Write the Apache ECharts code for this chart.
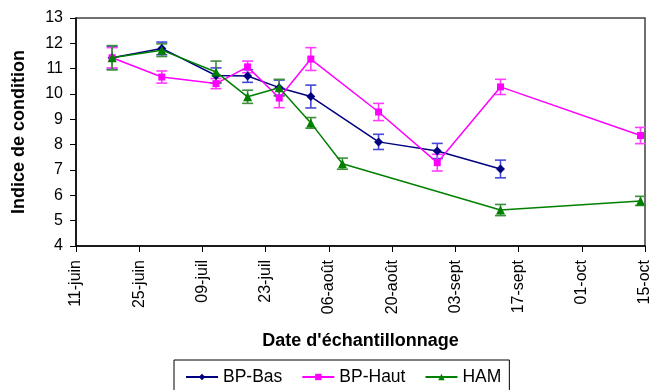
<!DOCTYPE html>
<html>
<head>
<meta charset="utf-8">
<script src="https://cdn.jsdelivr.net/npm/echarts@6/dist/echarts.min.js"></script>
<style>
html,body{margin:0;padding:0;background:#fff;}
#chart{width:653px;height:390px;}
</style>
</head>
<body>
<div id="chart"></div>
<script>
// x values: days since 11 June
const tickLabels = ['11-juin','25-juin','09-juil','23-juil','06-août','20-août','03-sept','17-sept','01-oct','15-oct'];

const bpBasDays   = [8, 19, 31, 38, 45, 52, 67, 80, 94];
const bpBasValues = [11.43, 11.80, 10.73, 10.71, 10.25, 9.90, 8.11, 7.75, 7.04];
const bpBasErr    = [0.45, 0.25, 0.30, 0.25, 0.30, 0.45, 0.30, 0.30, 0.35];

const bpHautDays   = [8, 19, 31, 38, 45, 52, 67, 80, 94, 125];
const bpHautValues = [11.43, 10.67, 10.41, 11.07, 9.84, 11.38, 9.29, 7.29, 10.28, 8.36];
const bpHautErr    = [0.40, 0.24, 0.20, 0.23, 0.38, 0.45, 0.34, 0.33, 0.30, 0.32];

const hamDays   = [8, 19, 31, 38, 45, 52, 59, 94, 125];
const hamValues = [11.43, 11.73, 10.87, 9.89, 10.25, 8.86, 7.25, 5.42, 5.78];
const hamErr    = [0.48, 0.25, 0.43, 0.26, 0.33, 0.21, 0.22, 0.22, 0.18];

const FONT = 'Liberation Sans, Arial, sans-serif';

function pts(days, vals){ return days.map((d,i)=>[d, vals[i]]); }
function errs(days, vals, e){ return days.map((d,i)=>[d, vals[i]-e[i], vals[i]+e[i]]); }

function errSeries(name, data, color){
  return {
    type:'custom', name: name + '_err', data: data, z: 3, silent:true,
    renderItem: function(params, api){
      const x = api.value(0);
      const lo = api.coord([x, api.value(1)]);
      const hi = api.coord([x, api.value(2)]);
      const w = 5.5;
      const st = {stroke: color, lineWidth: 1.6};
      return {type:'group', children:[
        {type:'line', shape:{x1:lo[0], y1:lo[1], x2:hi[0], y2:hi[1]}, style: st},
        {type:'line', shape:{x1:lo[0]-w, y1:lo[1], x2:lo[0]+w, y2:lo[1]}, style: st},
        {type:'line', shape:{x1:hi[0]-w, y1:hi[1], x2:hi[0]+w, y2:hi[1]}, style: st}
      ]};
    }
  };
}

const chart = echarts.init(document.getElementById('chart'), null, {renderer:'canvas'});
chart.setOption({
  animation:false,
  backgroundColor:'#fff',
  textStyle:{fontFamily:FONT},
  grid:{left:76, right:3, top:18, bottom:144, show:true, borderColor:'#404040', borderWidth:1.5, backgroundColor:'transparent'},
  legend:{
    left:174, top:360,
    padding:[8, 8, 20, 11],
    borderColor:'#000', borderWidth:1,
    itemWidth:32, itemHeight:8, itemGap:19,
    textStyle:{fontFamily:FONT, fontSize:17.5, color:'#000'},
    data:['BP-Bas','BP-Haut','HAM']
  },
  xAxis:{
    type:'value', min:0, max:126, interval:14,
    name:"Date d'échantillonnage", nameLocation:'middle', nameGap:86,
    nameTextStyle:{fontFamily:FONT, fontSize:18, fontWeight:'bold', color:'#000'},
    axisLine:{lineStyle:{color:'#000', width:1.5}},
    axisTick:{inside:false, length:6, lineStyle:{color:'#000'}},
    splitLine:{show:false},
    axisLabel:{rotate:90, margin:14, fontSize:16, color:'#000', fontFamily:FONT,
      formatter:function(v){ return tickLabels[Math.round(v/14)] || ''; }}
  },
  yAxis:{
    type:'value', min:4, max:13, interval:1,
    name:'Indice de condition', nameLocation:'middle', nameGap:48,
    nameTextStyle:{fontFamily:FONT, fontSize:18, fontWeight:'bold', color:'#000'},
    axisLine:{show:true, lineStyle:{color:'#000', width:1.5}},
    axisTick:{show:true, inside:false, length:6, lineStyle:{color:'#000'}},
    splitLine:{show:false},
    axisLabel:{margin:13, fontSize:16, color:'#000', fontFamily:FONT}
  },
  series:[
    errSeries('BP-Bas', errs(bpBasDays, bpBasValues, bpBasErr), '#4747d6'),
    errSeries('BP-Haut', errs(bpHautDays, bpHautValues, bpHautErr), '#ff3cff'),
    errSeries('HAM', errs(hamDays, hamValues, hamErr), '#3d8f3d'),
    {type:'line', name:'BP-Bas', data:pts(bpBasDays, bpBasValues), z:4,
      symbol:'diamond', symbolSize:9, color:'#000080',
      lineStyle:{color:'#000080', width:1.5}, itemStyle:{color:'#000080'}},
    {type:'line', name:'BP-Haut', data:pts(bpHautDays, bpHautValues), z:4,
      symbol:'rect', symbolSize:7, color:'#ff00ff',
      lineStyle:{color:'#ff00ff', width:1.5}, itemStyle:{color:'#ff00ff'}},
    {type:'line', name:'HAM', data:pts(hamDays, hamValues), z:5,
      symbol:'triangle', symbolSize:9, color:'#008000',
      lineStyle:{color:'#008000', width:1.5}, itemStyle:{color:'#008000'}}
  ]
});
</script>
</body>
</html>
